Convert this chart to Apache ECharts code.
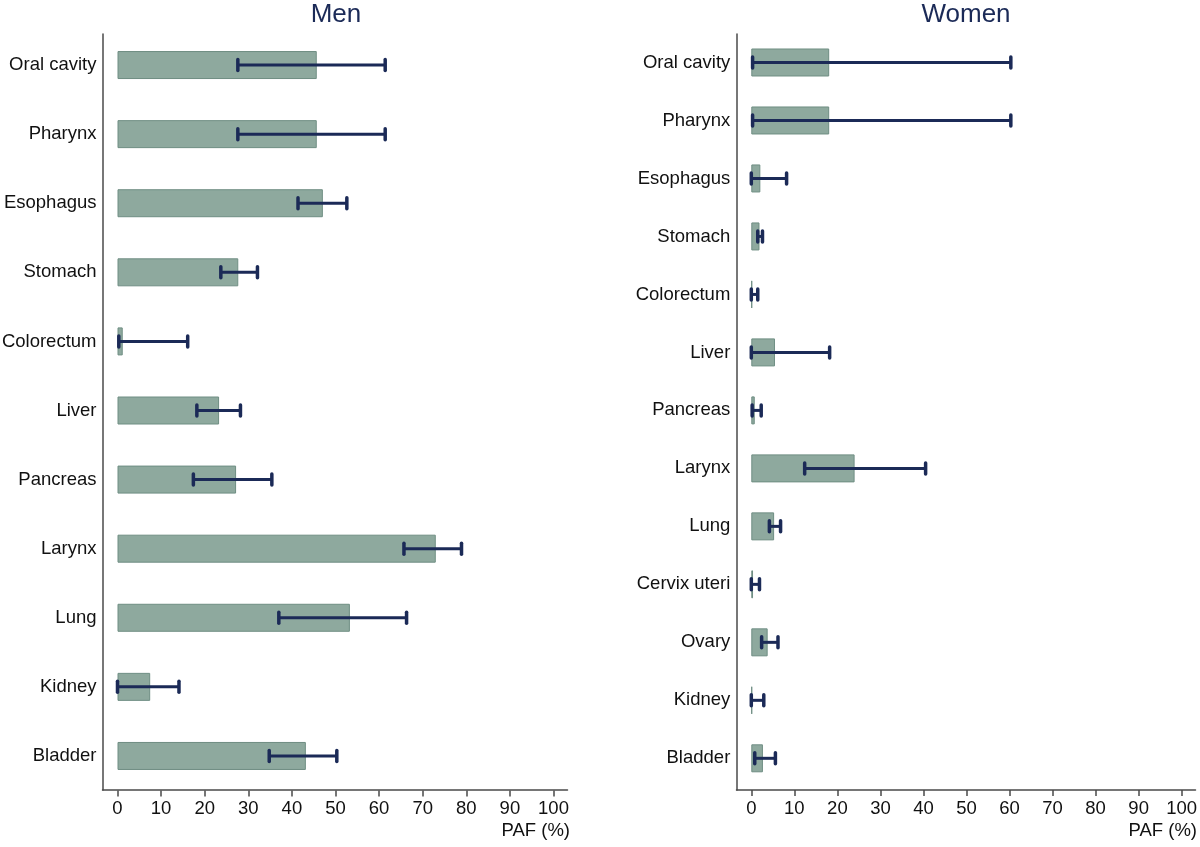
<!DOCTYPE html>
<html><head><meta charset="utf-8">
<script src="https://cdn.jsdelivr.net/npm/echarts@6/dist/echarts.min.js"></script>
<style>html,body{margin:0;padding:0;background:#fff}#c{width:1200px;height:847px}</style>
</head><body><div id="c"></div>
<script>
const menCats = ['Oral cavity','Pharynx','Esophagus','Stomach','Colorectum','Liver','Pancreas','Larynx','Lung','Kidney','Bladder'];
const menPAF  = [45.7, 45.7, 47.1, 27.7, 1.2, 23.3, 27.2, 73.0, 53.3, 7.5, 43.2];
const menLow  = [27.6, 27.6, 41.4, 23.7, 0.3, 18.2, 17.4, 65.7, 37.0, 0.0, 34.8];
const menHigh = [61.4, 61.4, 52.6, 32.1, 16.1, 28.2, 35.4, 78.9, 66.3, 14.1, 50.3];

const womenCats = ['Oral cavity','Pharynx','Esophagus','Stomach','Colorectum','Liver','Pancreas','Larynx','Lung','Cervix uteri','Ovary','Kidney','Bladder'];
const womenPAF  = [18.1, 18.1, 2.1, 1.9, 0.2, 5.5, 0.8, 24.0, 5.3, 0.4, 3.8, 0.2, 2.7];
const womenLow  = [0.3, 0.3, 0.0, 1.5, 0.0, 0.0, 0.2, 12.4, 4.2, 0.0, 2.4, 0.0, 0.8];
const womenHigh = [60.3, 60.3, 8.2, 2.6, 1.5, 18.2, 2.3, 40.5, 6.8, 1.9, 6.2, 2.9, 5.6];

const xTicks = [0,10,20,30,40,50,60,70,80,90,100];
const titles = ['Men','Women'];
const xName = 'PAF (%)';

const FONT = "'Liberation Sans',Arial,sans-serif";
const AX = '#4a4a4a';
const NAVY = '#1b2a57';
const BAR = '#8ea99e';
const BARB = '#6f8e83';

const chart = echarts.init(document.getElementById('c'), null, {renderer:'canvas'});

function errItem(params, api) {
  const idx = api.value(0), lo = api.value(1), hi = api.value(2);
  const p1 = api.coord([lo, idx]);
  const p2 = api.coord([hi, idx]);
  const h = 5.5;
  return {type:'group', children:[
    {type:'line', shape:{x1:p1[0], y1:p1[1], x2:p2[0], y2:p2[1]}, style:{stroke:NAVY, lineWidth:3}},
    {type:'line', shape:{x1:p1[0], y1:p1[1]-h, x2:p1[0], y2:p1[1]+h}, style:{stroke:NAVY, lineWidth:3.5, lineCap:'round'}},
    {type:'line', shape:{x1:p2[0], y1:p2[1]-h, x2:p2[0], y2:p2[1]+h}, style:{stroke:NAVY, lineWidth:3.5, lineCap:'round'}}
  ]};
}

function dataAxes(gridIndex, cats, xOffset) {
  return {
    x: {type:'value', gridIndex, min:0, max:100, interval:10, offset:xOffset,
        axisLine:{show:false}, splitLine:{show:false},
        axisTick:{show:true, length:6, lineStyle:{color:AX, width:1.5}},
        axisLabel:{margin:9, fontSize:18.5, color:'#111', fontFamily:FONT,
                   formatter:(v)=> xTicks.includes(v) ? String(v) : ''}},
    y: {type:'category', gridIndex, data:cats, inverse:true, offset:15,
        axisLine:{show:false}, axisTick:{show:false}, splitLine:{show:false},
        axisLabel:{margin:6, fontSize:18.5, color:'#111', fontFamily:FONT}}
  };
}
function lineAxes(gridIndex) {
  return {
    x: {type:'value', gridIndex, min:0, max:1, axisLine:{show:true, onZero:false, lineStyle:{color:AX, width:1.5}},
        axisTick:{show:false}, axisLabel:{show:false}, splitLine:{show:false}},
    y: {type:'value', gridIndex, min:0, max:1, axisLine:{show:true, onZero:false, lineStyle:{color:AX, width:1.5}},
        axisTick:{show:false}, axisLabel:{show:false}, splitLine:{show:false}}
  };
}

const mA = dataAxes(0, menCats, 0);
const wA = dataAxes(1, womenCats, 2.7);
const mB = lineAxes(2);
const wB = lineAxes(3);

chart.setOption({
  animation:false,
  grid:[
    {left:117.5, right:646.5, top:30.5, bottom:56.5, outerBoundsMode:'none', containLabel:false},
    {left:751.3, right:18.3, top:33.5, bottom:59.7, outerBoundsMode:'none', containLabel:false},
    {left:102.5, right:632.5, top:34, bottom:57, outerBoundsMode:'none', containLabel:false},
    {left:736.5, right:4.5, top:34, bottom:57, outerBoundsMode:'none', containLabel:false}
  ],
  xAxis:[mA.x, wA.x, mB.x, wB.x],
  yAxis:[mA.y, wA.y, mB.y, wB.y],
  graphic:[
    {type:'text', x:336, y:15, style:{text:titles[0], align:'center', verticalAlign:'middle', fontSize:26, fontFamily:FONT, fill:NAVY}},
    {type:'text', x:966, y:15, style:{text:titles[1], align:'center', verticalAlign:'middle', fontSize:26, fontFamily:FONT, fill:NAVY}},
    {type:'text', x:570, y:831, style:{text:xName, align:'right', verticalAlign:'middle', fontSize:18.5, fontFamily:FONT, fill:'#111'}},
    {type:'text', x:1197, y:831, style:{text:xName, align:'right', verticalAlign:'middle', fontSize:18.5, fontFamily:FONT, fill:'#111'}}
  ],
  series:[
    {type:'bar', xAxisIndex:0, yAxisIndex:0, data:menPAF, barWidth:28,
     itemStyle:{color:BAR, borderColor:BARB, borderWidth:1}, silent:true},
    {type:'custom', xAxisIndex:0, yAxisIndex:0, renderItem:errItem,
     encode:{y:0, x:[1,2]}, data:menLow.map((l,i)=>[i,l,menHigh[i]]), z:5},
    {type:'bar', xAxisIndex:1, yAxisIndex:1, data:womenPAF, barWidth:28,
     itemStyle:{color:BAR, borderColor:BARB, borderWidth:1}, silent:true},
    {type:'custom', xAxisIndex:1, yAxisIndex:1, renderItem:errItem,
     encode:{y:0, x:[1,2]}, data:womenLow.map((l,i)=>[i,l,womenHigh[i]]), z:5}
  ]
});
</script></body></html>
